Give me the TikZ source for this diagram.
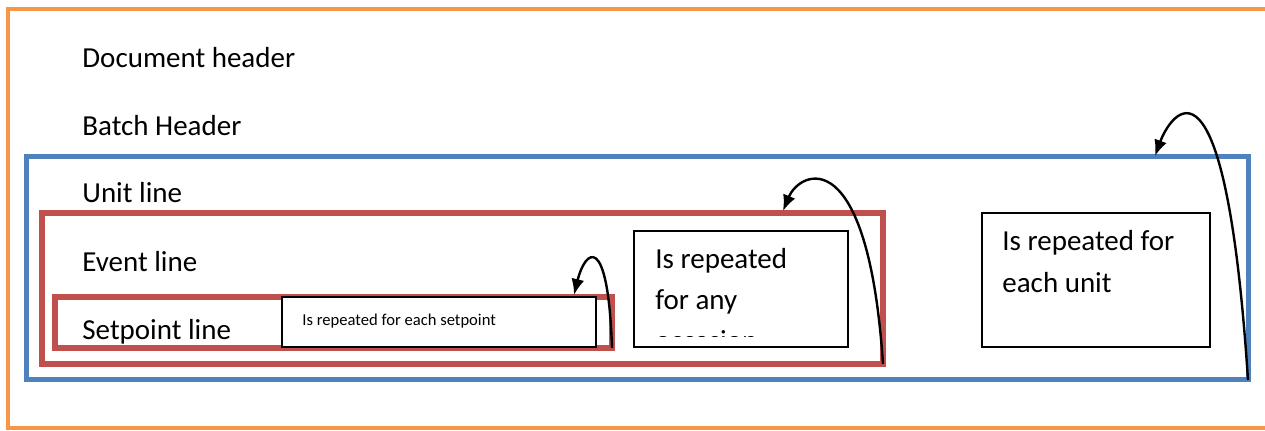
\documentclass[tikz,border=0pt]{standalone}
\usepackage{fontspec}
\setmainfont{Carlito}
\usetikzlibrary{arrows.meta}
\definecolor{frameorange}{RGB}{247,150,70}
\definecolor{frameblue}{RGB}{79,129,189}
\definecolor{framered}{RGB}{192,80,77}
\tikzset{
	linelabel/.style={anchor=base west, inner sep=0pt, font=\fontsize{14.5}{17}\selectfont},
	notelabel/.style={anchor=base west, inner sep=0pt, font=\fontsize{14.5}{17}\selectfont},
	smalllabel/.style={anchor=base west, inner sep=0pt, font=\fontsize{8.3}{10}\selectfont},
	notebox/.style={draw=black, fill=white, line width=0.8pt},
	repeatarrow/.style={line width=1.2pt, -{Latex[length=8pt,width=6.5pt]}}
}

\begin{document}
\begin{tikzpicture}[x=0.5pt,y=-0.5pt]
			\clip (0,0) rectangle (1265,431);
			\fill[white] (0,0) rectangle (1265,431);
			\coordinate (blueBR) at (1248,380);
			\coordinate (blueTip) at (1155,156);
			\coordinate (eventBR) at (883,364);
			\coordinate (eventTip) at (783,211);
			\coordinate (setBR) at (612,348);
			\coordinate (setTip) at (574,295);
			\draw[frameorange, line width=2.2pt] (8,9) rectangle (1290,428);
			\draw[frameblue, line width=2.5pt] (26,157) rectangle (blueBR);
			\draw[framered, line width=2.6pt] (42,213) rectangle (eventBR);
			\draw[framered, line width=2.6pt] (55,297) rectangle (setBR);
			\node[linelabel] (docheader) at (82,68) {Document header};
			\node[linelabel] (batchheader) at (82,136) {Batch Header};
			\node[linelabel] (unitline) at (82,203) {Unit line};
			\node[linelabel] (eventline) at (82,272) {Event line};
			\node[linelabel] (setpointline) at (82,340) {Setpoint line};
			\draw[notebox] (282,297) rectangle (596,347);
			\node[smalllabel] (setnote) at (302,326) {Is repeated for each setpoint};
			\draw[notebox] (634,231) rectangle (848,347);
			\begin{scope}
				\clip (636,233) rectangle (846,337);
				\node[notelabel] (eventnote1) at (655,269) {Is repeated};
				\node[notelabel] (eventnote2) at (655,310) {for any};
				\node[notelabel] (eventnote3) at (655,351) {occasion};
			\end{scope}
			\draw[notebox] (982,213) rectangle (1210,347);
			\node[notelabel] (unitnote1) at (1002,251) {Is repeated for};
			\node[notelabel] (unitnote2) at (1002,293) {each unit};
			\draw[repeatarrow] (setBR) .. controls (608,230) and (585,250) .. (setTip);
			\draw[repeatarrow] (eventBR) .. controls (868,140) and (800,170) .. (eventTip);
			\draw[repeatarrow] (blueBR) .. controls (1225,30) and (1170,115) .. (blueTip);
		\end{tikzpicture}
\end{document}
